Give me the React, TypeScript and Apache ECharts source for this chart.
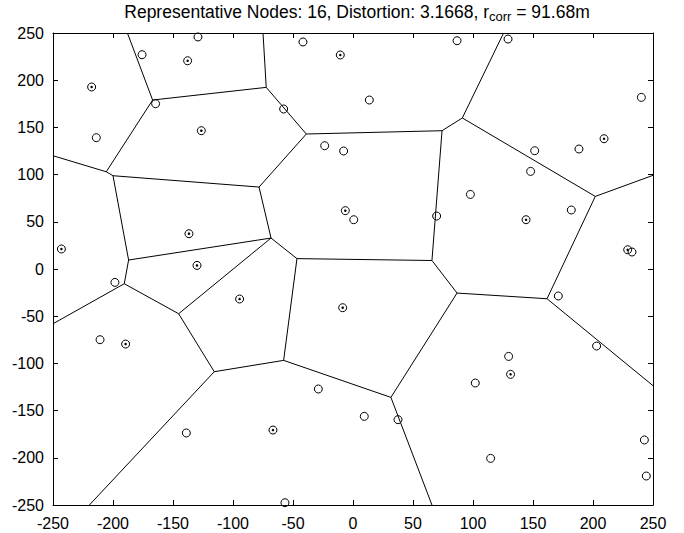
import React, { useEffect, useRef } from "react";
import * as echarts from "echarts";

// Representative nodes (circles with centre dot)
const repNodes: [number, number][] = [
  [-137.8, 220.6], [-10.6, 226.7], [-217.8, 192.8], [-126.4, 146.5],
  [-6.4, 61.8], [-136.7, 37.4], [-243, 21.2], [-130, 3.8],
  [209.2, 138], [144.2, 52.2], [228.9, 20.4], [-94.5, -31.8],
  [-8.6, -41], [-189.5, -79.5], [-66.7, -170.6], [131.3, -111.6],
];

// Other nodes (plain circles)
const otherNodes: [number, number][] = [
  [-129.2, 245.8], [-175.8, 227], [-41.7, 240.5], [-164.5, 175.1],
  [-57.8, 169.5], [-213.9, 139.1], [-23.6, 130.6], [-7.8, 125],
  [0.6, 52.2], [86.7, 241.8], [129.2, 243.6], [13.6, 179],
  [240.3, 181.8], [151.4, 125.3], [188.3, 127.1], [148, 103.4],
  [97.8, 79], [69.7, 56.1], [181.9, 62.5], [232.5, 18],
  [-198.4, -14.2], [-210.8, -74.9], [-28.9, -127.1], [-138.9, -173.7],
  [-56.7, -247.6], [171.1, -28.6], [203, -81.6], [129.7, -92.6],
  [101.9, -120.8], [9.4, -156.1], [37.5, -159.6], [114.7, -200.6],
  [242.8, -181.1], [244.4, -219.3],
];

// Voronoi vertices (data coordinates)
const voronoiVertices: Record<string, [number, number]> = {
  A: [-188, 250], B: [-167, 179], C: [-72.3, 192.4], D: [-75, 250],
  E: [-38.9, 143], F: [74.2, 146.5], G: [-78.3, 86.8], H: [-200, 98.8],
  I: [-205.6, 103], J: [-250, 120], K: [-187, 9.5], L: [-68.3, 32.8],
  M: [-46.7, 11], N: [65.8, 9], O: [-190.6, -15.6], P: [-250, -58],
  Q: [-145.3, -47.4], R: [-115.6, -108.8], S: [-57.8, -96.8], T: [-219.7, -250],
  U: [31.6, -136], V: [86.7, -25.5], W: [161.7, -31.5], X: [201.9, 76.9],
  Y: [250, -123.6], Z: [65.8, -250], AA: [250, 99.2], AB: [91.1, 160],
  AC: [125.5, 250],
};

const voronoiEdges: [string, string][] = [
  ["A", "B"], ["B", "C"], ["C", "D"], ["C", "E"], ["E", "F"], ["E", "G"],
  ["G", "H"], ["H", "I"], ["I", "B"], ["I", "J"], ["H", "K"], ["G", "L"],
  ["L", "K"], ["L", "M"], ["L", "Q"], ["M", "N"], ["M", "S"], ["K", "O"],
  ["O", "P"], ["O", "Q"], ["Q", "R"], ["R", "S"], ["R", "T"], ["S", "U"],
  ["U", "V"], ["V", "N"], ["V", "W"], ["W", "X"], ["W", "Y"], ["U", "Z"],
  ["X", "AA"], ["X", "AB"], ["AB", "F"], ["AB", "AC"], ["F", "N"],
];

const FONT = "'Liberation Sans', Arial, Helvetica, sans-serif";

export default function App() {
  const ref = useRef<HTMLDivElement>(null);
  useEffect(() => {
    if (!ref.current) return;
    const chart = echarts.init(ref.current, undefined, { renderer: "svg" });
    const baseAxis = {
      type: "value" as const,
      min: -250,
      max: 250,
      interval: 50,
      splitLine: { show: false },
      axisLine: { show: true, onZero: false, lineStyle: { color: "#000", width: 1 } },
      axisTick: { show: true, inside: true, length: 5, lineStyle: { color: "#000" } },
    };
    const labelStyle = { color: "#000", fontSize: 16, fontFamily: FONT };
    chart.setOption({
      animation: false,
      backgroundColor: "#fff",
      title: {
        text: "Representative Nodes: 16, Distortion: 3.1668, r{sub|corr} = 91.68m",
        left: 352,
        textAlign: "center",
        top: -4,
        textStyle: {
          color: "#000",
          fontSize: 17.5,
          fontWeight: "normal",
          fontFamily: FONT,
          rich: {
            sub: { fontSize: 13, fontFamily: FONT, color: "#000", padding: [9, 0, 0, 0] },
          },
        },
      },
      grid: { left: 53, right: 31, top: 33, bottom: 28, containLabel: false },
      xAxis: [
        { ...baseAxis, position: "bottom", axisLabel: { ...labelStyle, margin: 10 } },
        { ...baseAxis, position: "top", axisLabel: { show: false } },
      ],
      yAxis: [
        { ...baseAxis, position: "left", axisLabel: { ...labelStyle, margin: 9 } },
        { ...baseAxis, position: "right", axisLabel: { show: false } },
      ],
      series: [
        {
          type: "lines",
          coordinateSystem: "cartesian2d",
          xAxisIndex: 0,
          yAxisIndex: 0,
          silent: true,
          clip: true,
          lineStyle: { color: "#000", width: 1, opacity: 1, curveness: 0 },
          data: voronoiEdges.map(([a, b]) => ({
            coords: [voronoiVertices[a], voronoiVertices[b]],
          })),
        },
        {
          type: "scatter",
          xAxisIndex: 0,
          yAxisIndex: 0,
          symbol: "circle",
          symbolSize: 8,
          itemStyle: { color: "rgba(255,255,255,0)", borderColor: "#000", borderWidth: 1, opacity: 1 },
          data: otherNodes,
        },
        {
          type: "scatter",
          xAxisIndex: 0,
          yAxisIndex: 0,
          symbol: "circle",
          symbolSize: 8,
          itemStyle: { color: "rgba(255,255,255,0)", borderColor: "#000", borderWidth: 1, opacity: 1 },
          data: repNodes,
        },
        {
          type: "scatter",
          xAxisIndex: 0,
          yAxisIndex: 0,
          symbol: "circle",
          symbolSize: 2.5,
          itemStyle: { color: "#000", opacity: 1 },
          data: repNodes,
        },
      ],
    });
    return () => chart.dispose();
  }, []);
  return <div ref={ref} style={{ width: 684, height: 533, position: "absolute", left: 0, top: 0 }} />;
}
